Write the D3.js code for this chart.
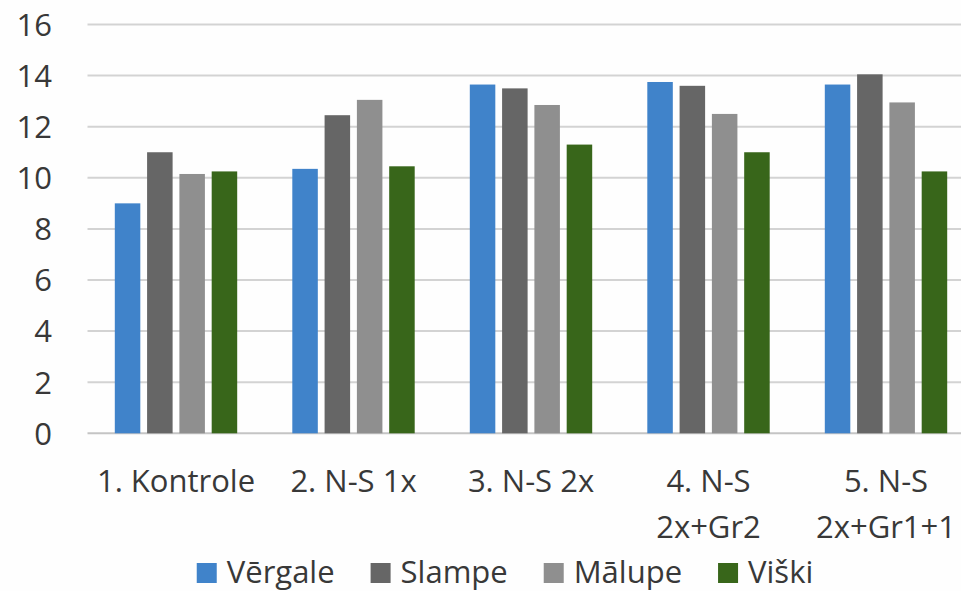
<!DOCTYPE html>
<html>
<head>
<meta charset="utf-8">
<script src="https://cdn.jsdelivr.net/npm/d3@7"></script>
<style>
  html, body { margin: 0; padding: 0; background: #fefefe; }
  svg { display: block; }
  text { font-family: "Open Sans", "Noto Sans", sans-serif; fill: #383838; }
</style>
</head>
<body>
<svg id="chart" width="961" height="591"></svg>
<script>
// Treatments (x categories), each label split into lines
const categories = ["1. Kontrole", "2. N-S 1x", "3. N-S 2x", "4. N-S 2x+Gr2", "5. N-S 2x+Gr1+1"];
const categoryLines = [["1. Kontrole"], ["2. N-S 1x"], ["3. N-S 2x"], ["4. N-S", "2x+Gr2"], ["5. N-S", "2x+Gr1+1"]];

// Locations (series)
const seriesNames = ["Vērgale", "Slampe", "Mālupe", "Viški"];
const seriesColors = ["#4083ca", "#666666", "#8f8f8f", "#38661a"];

const vergale = [9.0, 10.35, 13.65, 13.75, 13.65];
const slampe  = [11.0, 12.45, 13.5, 13.6, 14.05];
const malupe  = [10.15, 13.05, 12.85, 12.5, 12.95];
const viski   = [10.25, 10.45, 11.3, 11.0, 10.25];
const seriesValues = [vergale, slampe, malupe, viski];

const yTicks = [0, 2, 4, 6, 8, 10, 12, 14, 16];

const svg = d3.select("#chart");

const x0 = d3.scaleBand().domain(categories).range([87.25, 974.75]).padding(0);
const groupWidth = 122.4;
const x1 = d3.scaleBand().domain(seriesNames).range([0, groupWidth]).paddingInner(0.21);
const y = d3.scaleLinear().domain([0, 16]).range([433.3, 24.5]);

// gridlines
svg.append("g")
  .selectAll("line")
  .data(yTicks)
  .join("line")
  .attr("x1", 87.5)
  .attr("x2", 961)
  .attr("y1", d => y(d))
  .attr("y2", d => y(d))
  .attr("stroke", d => d === 0 ? "#c4c4c4" : "#d3d3d3")
  .attr("stroke-width", 2);

// y axis tick labels
const yAxis = d3.axisLeft(y).tickValues(yTicks).tickSize(0).tickPadding(0);
const gy = svg.append("g").attr("transform", "translate(52,0)").call(yAxis);
gy.select(".domain").remove();
gy.selectAll("text")
  .attr("font-size", 31)
  .attr("font-family", "'Open Sans', sans-serif")
  .attr("fill", "#383838")
  .attr("dy", "0.35em");

// bars
const groups = svg.append("g")
  .selectAll("g")
  .data(categories)
  .join("g")
  .attr("transform", d => `translate(${x0(d) + (x0.bandwidth() - groupWidth) / 2},0)`);

groups.selectAll("rect")
  .data((d, i) => seriesNames.map((s, j) => ({ s, j, v: seriesValues[j][i] })))
  .join("rect")
  .attr("x", d => x1(d.s))
  .attr("width", x1.bandwidth())
  .attr("y", d => y(d.v))
  .attr("height", d => y(0) - y(d.v))
  .attr("fill", d => seriesColors[d.j]);

// x category labels
const xl = svg.append("g")
  .selectAll("text")
  .data(categories)
  .join("text")
  .attr("x", d => x0(d) + x0.bandwidth() / 2)
  .attr("y", 492)
  .attr("text-anchor", "middle")
  .attr("font-size", 31);
xl.selectAll("tspan")
  .data((d, i) => categoryLines[i])
  .join("tspan")
  .attr("x", function () { return d3.select(this.parentNode).attr("x"); })
  .attr("dy", (d, i) => i === 0 ? 0 : 46)
  .text(d => d);

// legend
const legend = svg.append("g");
const items = legend.selectAll("g")
  .data(seriesNames)
  .join("g");
items.append("rect")
  .attr("width", 20).attr("height", 20)
  .attr("y", 563)
  .attr("fill", (d, i) => seriesColors[i]);
items.append("text")
  .attr("x", 30)
  .attr("y", 583)
  .attr("font-size", 31)
  .text(d => d);
let cursor = 0;
const offsets = [];
items.each(function () {
  const w = this.getBBox().width;
  offsets.push(cursor);
  cursor += w + 36;
});
const total = cursor - 36;
const start = 505 - total / 2;
items.attr("transform", (d, i) => `translate(${start + offsets[i]},0)`);
</script>
</body>
</html>
